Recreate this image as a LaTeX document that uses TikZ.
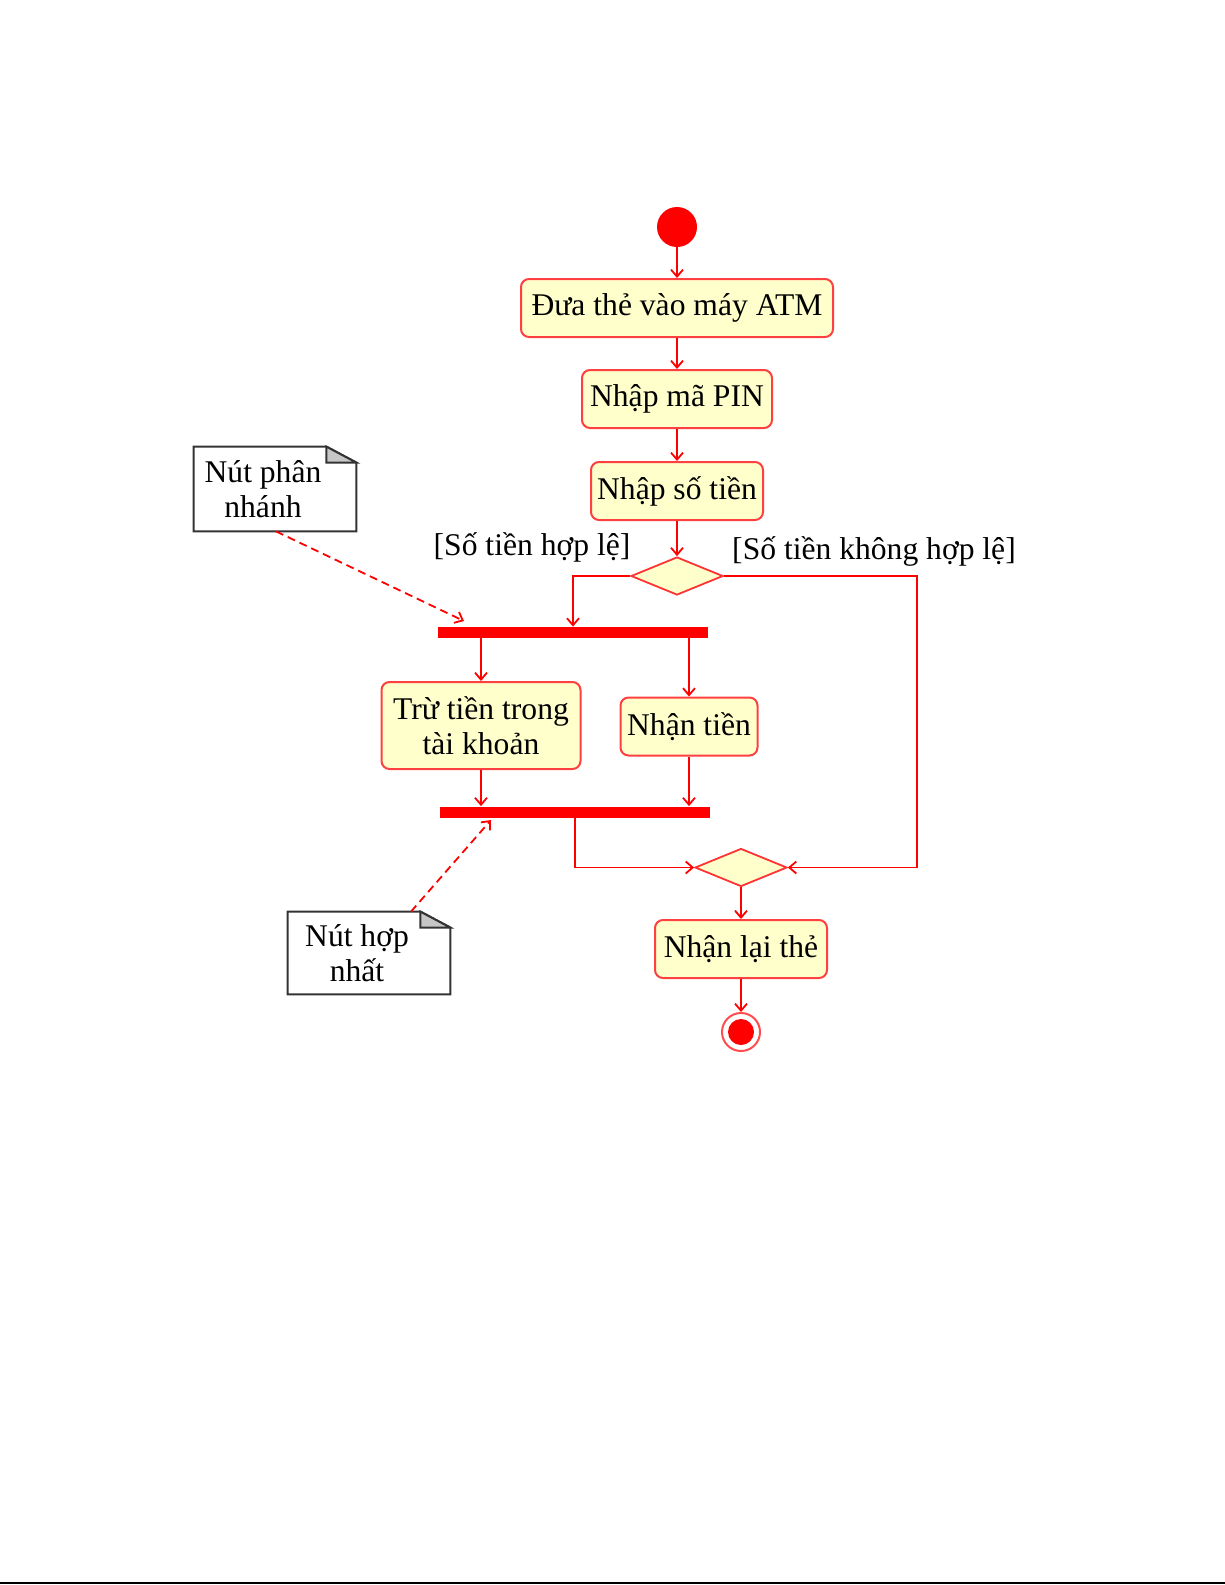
\documentclass[tikz,border=0pt]{standalone}
\usepackage{fontspec}
\setmainfont{Liberation Serif}
\usetikzlibrary{calc,arrows.meta,shapes.geometric}
\definecolor{actfill}{RGB}{255,255,204}
\tikzset{
    flow line/.style={line width=0.9pt, red,
        -{Straight Barb[length=3.5pt,width=6pt]}},
    action box/.style={
        rectangle,
        rounded corners=4pt,
        draw=red!75,
        line width=1pt,
        fill=actfill,
        align=center,
        inner sep=2pt,
        minimum height=29pt
    },
    decision/.style={diamond, draw=red!80, line width=0.9pt, fill=actfill,
        inner sep=0pt, minimum width=46pt, minimum height=19pt},
    sync bar/.style={rectangle, fill=red, inner sep=0pt,
        minimum width=135pt, minimum height=5.5pt},
    start node/.style={circle, fill=red, minimum size=20pt, inner sep=0pt},
    end node/.style={circle, draw=red!70, line width=1pt, fill=white,
        minimum size=19pt, inner sep=0pt},
    note box/.style={rectangle, align=center, inner sep=0pt, minimum width=69pt},
    note line/.style={line width=1pt, black!80},
    note link/.style={line width=0.9pt, red, dash pattern=on 4pt off 2.5pt,
        -{Straight Barb[length=3.5pt,width=6pt]}},
    guard/.style={inner sep=0pt}
}
\newcommand{\NoteFrame}[1]{%
\draw[note line] (#1.north west) -- ([xshift=-3pt]#1.north east)
    -- ([xshift=12pt,yshift=-8pt]#1.north east)
    -- ([xshift=12pt]#1.south east) -- (#1.south west) -- cycle;
\filldraw[note line,fill=gray!45] ([xshift=-3pt]#1.north east)
    -- ([xshift=12pt,yshift=-8pt]#1.north east)
    -- ([xshift=-3pt,yshift=-8pt]#1.north east) -- cycle;
}

\begin{document}
\begin{tikzpicture}[x=0.5pt,y=-0.5pt,font=\fontsize{15.8}{17.5}\selectfont]
    \useasboundingbox (0,0) rectangle (1225,1585);
    % main column
    \node[start node] (start) at (677,227) {};
    \node[action box,minimum width=156pt] (atm) at (677,308) {Đưa thẻ vào máy ATM};
    \node[action box,minimum width=95pt] (pin) at (677,399) {Nhập mã PIN};
    \node[action box,minimum width=86pt] (sotien) at (677,491) {Nhập số tiền};
    \node[decision] (chon) at (677,576) {};
    \node[guard] (hople) at (532,547) {[Số tiền hợp lệ]};
    \node[guard] (khonghople) at (874,551) {[Số tiền không hợp lệ]};
    % fork and join
    \node[sync bar] (fork) at (573,632.5) {};
    \node[action box,minimum width=99.5pt,minimum height=43.5pt] (tru)
        at (481,725.5) {Trừ tiền trong\\tài khoản};
    \node[action box,minimum width=68.5pt] (nhan) at (689,726.5) {Nhận tiền};
    \node[sync bar] (join) at (575,812) {};
    \node[decision] (gop) at (741,867.5) {};
    \node[action box,minimum width=86pt] (lai) at (741,949) {Nhận lại thẻ};
    \node[end node] (stop) at (741,1032) {};
    \fill[red] (stop) circle (6.5pt);
    % notes
    \node[note box,minimum height=42pt] (nfork) at (263,489) {Nút phân\\nhánh};
    \node[note box,minimum height=41pt] (njoin) at (357,953) {Nút hợp\\nhất};
    \NoteFrame{nfork}
    \NoteFrame{njoin}
    \coordinate (rtop) at (917,576);
    \coordinate (rbot) at (917,867.5);
    \coordinate (forktip) at (464,621);
    \coordinate (jointip) at (491,820);
    % flows
    \draw[flow line] (start) -- (atm);
    \draw[flow line] (atm) -- (pin);
    \draw[flow line] (pin) -- (sotien);
    \draw[flow line] (sotien) -- (chon);
    \draw[flow line] (chon.west) -| (fork.north);
    \draw[flow line] (chon.east) -- (rtop) -- (rbot) -- (gop.east);
    \draw[flow line] (fork.south -| tru.north) -- (tru.north);
    \draw[flow line] (fork.south -| nhan.north) -- (nhan.north);
    \draw[flow line] (tru.south) -- (tru.south |- join.north);
    \draw[flow line] (nhan.south) -- (nhan.south |- join.north);
    \draw[flow line] (join.south) |- (gop.west);
    \draw[flow line] (gop.south) -- (lai.north);
    \draw[flow line] (lai) -- (stop);
    \draw[note link] ([xshift=6.5pt]nfork.south) -- (forktip);
    \draw[note link] ([xshift=27pt]njoin.north) -- (jointip);
    % page edge
    \draw[line width=1pt] (0,1583) -- (1225,1583);
\end{tikzpicture}
\end{document}
